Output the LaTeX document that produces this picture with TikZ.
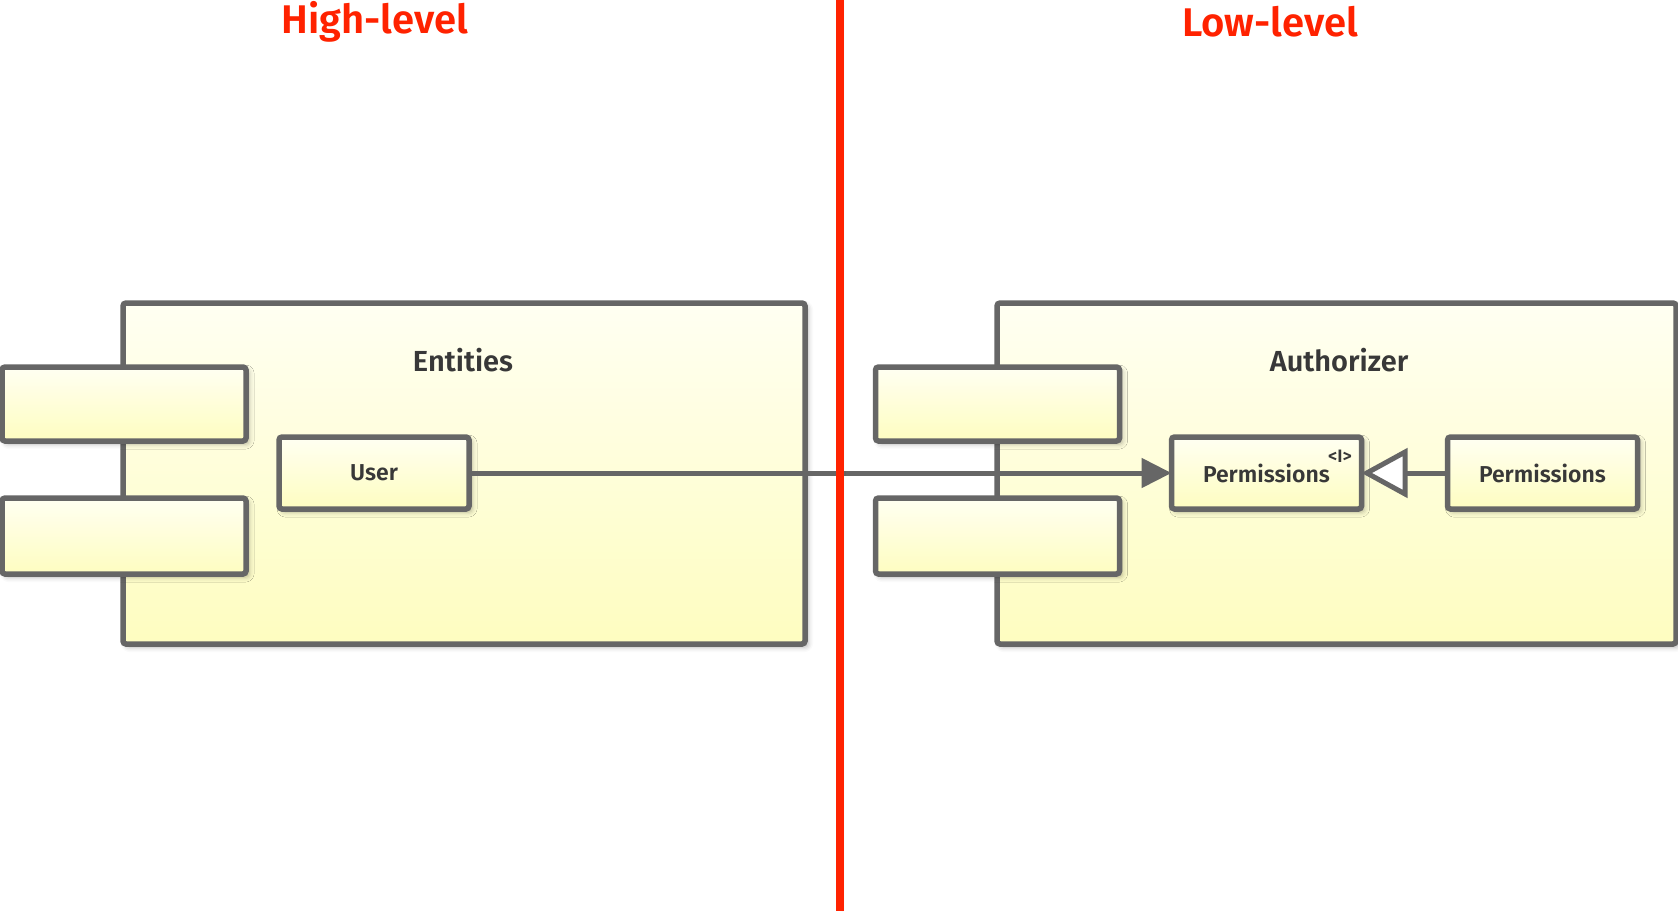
\documentclass[tikz,border=0pt]{standalone}
\usepackage{fontspec}
\setmainfont{Fira Sans}[BoldFont={Fira Sans SemiBold}]
\usetikzlibrary{arrows.meta,shadows.blur}

\definecolor{edge}{HTML}{666666}
\definecolor{ink}{HTML}{383838}
\definecolor{divider}{HTML}{FF2200}
\definecolor{fillTop}{HTML}{FFFFF2}
\definecolor{fillBot}{HTML}{FEFDC0}

\tikzset{
  comp/.style={draw=edge, line width=5.5pt, rounded corners=3pt,
    top color=fillTop, bottom color=fillBot,
    blur shadow={shadow xshift=3pt, shadow yshift=-3pt, shadow blur radius=5pt, shadow opacity=30},
    inner sep=0pt, outer sep=0pt, font=\bfseries\fontsize{23}{27}\selectfont, text=ink},
  container/.style={comp, anchor=center},
  portbox/.style={comp, minimum width=244pt},
  classbox/.style={comp, minimum width=190pt, minimum height=72pt},
  title/.style={text=divider, font=\bfseries\fontsize{40}{46}\selectfont},
  heading/.style={text=ink, font=\bfseries\fontsize{29}{33}\selectfont},
  link/.style={draw=edge, line width=5pt},
}

\begin{document}
\begin{tikzpicture}[x=1pt, y=-1pt]
\useasboundingbox (0,0) rectangle (1678,912);

% component containers
\node[container, minimum width=682pt, minimum height=341pt] (entities) at (464,473.5) {};
\node[container, minimum width=679pt, minimum height=341pt] (authorizer) at (1336.5,473.5) {};

% port boxes on the left edge of each container
\node[portbox, minimum height=74pt] (portA1) at (124,404) {};
\node[portbox, minimum height=76pt] (portA2) at (124,536) {};
\node[portbox, minimum height=74pt] (portB1) at (997.5,404) {};
\node[portbox, minimum height=76pt] (portB2) at (997.5,536) {};

% container headings
\node[heading] (entitiesLabel) at (463,360) {Entities};
\node[heading] (authorizerLabel) at (1339,360) {Authorizer};

% classes
\node[classbox] (user) at (374,473) {User};
\node[classbox] (permI) at (1266.5,473) {Permissions};
\node[text=ink, font=\bfseries\fontsize{18}{20}\selectfont] (ifaceMark) at (1340,456) {<I>};
\node[classbox] (permImpl) at (1542.5,473) {Permissions};

% dependency and realisation
\draw[link, -{Triangle[length=30pt,width=29pt]}] (user.east) -- (permI.west);
\draw[link, -{Triangle[open, length=46pt, width=49pt, fill=white]}] (permImpl.west) -- (permI.east);

% boundary between the two levels
\coordinate (divTop) at (840,0);
\coordinate (divBot) at (840,911);
\draw[divider, line width=8pt,
  blur shadow={shadow xshift=2pt, shadow yshift=0pt, shadow blur radius=3pt, shadow opacity=20}] (divTop) -- (divBot);

% level titles
\node[title] (highTitle) at (375,22) {High-level};
\node[title] (lowTitle) at (1270,22) {Low-level};
\end{tikzpicture}
\end{document}
